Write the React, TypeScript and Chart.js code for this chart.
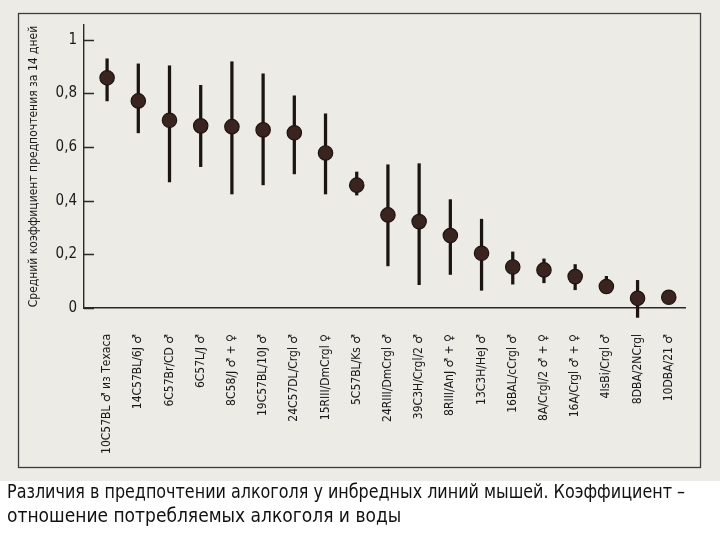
import React, { useEffect, useRef } from 'react';
import { Chart, registerables } from 'chart.js';

Chart.register(...registerables);

const strains: string[] = [
  '10C57BL ♂ из Техаса',
  '14C57BL/6J ♂',
  '6C57Br/CD ♂',
  '6C57L/J ♂',
  '8C58/J ♂ + ♀',
  '19C57BL/10J ♂',
  '24C57DL/Crgl ♂',
  '15RIII/DmCrgl ♀',
  '5C57BL/Ks ♂',
  '24RIII/DmCrgl ♂',
  '39C3H/Crgl/2 ♂',
  '8RIII/AnJ ♂ + ♀',
  '13C3H/HeJ ♂',
  '16BAL/cCrgl ♂',
  '8A/Crgl/2 ♂ + ♀',
  '16A/Crgl ♂ + ♀',
  '4IsBi/Crgl ♂',
  '8DBA/2NCrgl',
  '10DBA/21 ♂',
];

const means: number[] = [0.858, 0.772, 0.70, 0.679, 0.676, 0.664, 0.653, 0.578, 0.458, 0.347, 0.322, 0.27, 0.204, 0.153, 0.142, 0.117, 0.08, 0.036, 0.04];
const lows: (number | null)[] = [0.772, 0.653, 0.47, 0.527, 0.425, 0.459, 0.5, 0.425, 0.421, 0.157, 0.087, 0.125, 0.066, 0.089, 0.094, 0.068, 0.054, -0.035, null];
const highs: (number | null)[] = [0.929, 0.91, 0.903, 0.83, 0.918, 0.873, 0.791, 0.724, 0.507, 0.534, 0.538, 0.404, 0.331, 0.209, 0.183, 0.162, 0.118, 0.103, null];

const yTicks: number[] = [0, 0.2, 0.4, 0.6, 0.8, 1];
const yTitle = 'Средний коэффициент предпочтения за 14 дней';
const caption: string[] = [
  'Различия в предпочтении алкоголя у инбредных линий мышей. Коэффициент –',
  'отношение потребляемых алкоголя и воды',
];

const FONT = '"Liberation Sans Narrow", "Arial Narrow", "DejaVu Sans Condensed", "Roboto Condensed", "Liberation Sans", sans-serif';

const decor = {
  id: 'decor',
  beforeDraw(chart: any) {
    const ctx = chart.ctx;
    ctx.save();
    ctx.fillStyle = '#ffffff';
    ctx.fillRect(0, 0, chart.width, chart.height);
    ctx.fillStyle = '#ecebe6';
    ctx.fillRect(0, 0, chart.width, 481);
    ctx.strokeStyle = '#3c3c3c';
    ctx.lineWidth = 1.3;
    ctx.strokeRect(18.5, 13.5, 682, 454);
    ctx.restore();
  },
  afterDraw(chart: any) {
    const ctx = chart.ctx;
    const ys = chart.scales.y;
    const left = chart.chartArea.left;
    ctx.save();
    ctx.strokeStyle = '#2a2a2a';
    ctx.lineWidth = 1.4;
    ctx.beginPath();
    yTicks.forEach((v) => {
      const py = Math.round(ys.getPixelForValue(v)) + 0.5;
      ctx.moveTo(left, py);
      ctx.lineTo(left + 10, py);
    });
    ctx.stroke();
    ctx.restore();
  },
};

export default function App() {
  const ref = useRef<HTMLCanvasElement | null>(null);

  useEffect(() => {
    document.body.style.margin = '0';
    if (!ref.current) return;
    const barData = strains.map((_, i) =>
      lows[i] === null || highs[i] === null ? { x: i, y: null } : { x: i, y: [lows[i], highs[i]] }
    );
    const pointData = strains.map((_, i) => ({ x: i, y: means[i] }));

    const chart = new Chart(ref.current, {
      type: 'scatter',
      data: {
        datasets: [
          {
            type: 'bar',
            data: barData as any,
            backgroundColor: '#1c1411',
            borderWidth: 0,
            barThickness: 2.6,
            grouped: false,
            clip: false as any,
            order: 2,
          } as any,
          {
            type: 'scatter',
            data: pointData,
            backgroundColor: '#3a2420',
            borderColor: '#1e1310',
            borderWidth: 1.2,
            pointRadius: 7.2,
            pointHoverRadius: 7.2,
            order: 1,
          },
        ],
      },
      options: {
        responsive: false,
        animation: false,
        events: [],
        layout: { padding: { left: 7, right: 35, top: 25, bottom: 0 } },
        plugins: {
          legend: { display: false },
          tooltip: { enabled: false },
          title: {
            display: true,
            position: 'bottom',
            align: 'start',
            text: caption,
            color: '#111111',
            font: { family: FONT, size: 19, weight: 'normal', lineHeight: 24 / 19 },
            padding: { top: 0, bottom: 11 },
          },
        },
        scales: {
          x: {
            type: 'linear',
            offset: false,
            min: -0.74,
            max: 18.52,
            afterBuildTicks: (axis: any) => {
              axis.ticks = strains.map((_, i) => ({ value: i }));
            },
            afterFit: (scale: any) => {
              scale.height = 173;
            },
            grid: { display: false, drawTicks: false, offset: false },
            border: { display: true, color: '#2a2a2a', width: 1.4 },
            ticks: {
              autoSkip: false,
              minRotation: 90,
              maxRotation: 90,
              padding: 26,
              color: '#1a1a1a',
              font: { family: FONT, size: 12 },
              callback: (v: any) => strains[Math.round(Number(v))] ?? '',
            },
          },
          y: {
            type: 'linear',
            min: 0,
            max: 1.055,
            afterBuildTicks: (axis: any) => {
              axis.ticks = yTicks.map((v) => ({ value: v }));
            },
            afterFit: (scale: any) => {
              scale.width = 77;
            },
            grid: { display: false, drawTicks: false },
            border: { display: true, color: '#2a2a2a', width: 1.4 },
            ticks: {
              padding: 7,
              color: '#1a1a1a',
              font: { family: FONT, size: 15 },
              callback: (v: any) => {
                const n = Number(v);
                if (n === 0) return '0';
                if (n === 1) return '1';
                return n.toFixed(1).replace('.', ',');
              },
            },
            title: {
              display: true,
              text: yTitle,
              color: '#1a1a1a',
              font: { family: FONT, size: 12 },
              padding: { top: 20, bottom: 4 },
            },
          },
        },
      },
      plugins: [decor],
    });
    return () => chart.destroy();
  }, []);

  return <canvas ref={ref} width={720} height={540} style={{ display: 'block' }} />;
}
